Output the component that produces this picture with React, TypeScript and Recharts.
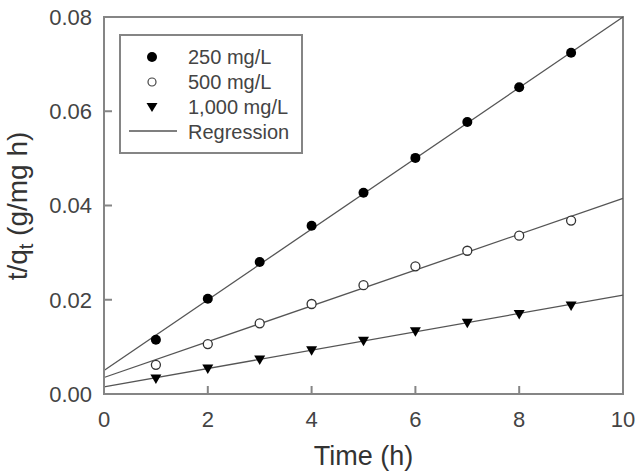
import {
  ComposedChart,
  Scatter,
  Line,
  XAxis,
  YAxis,
  ReferenceArea,
  Legend,
} from "recharts";

const times = [1, 2, 3, 4, 5, 6, 7, 8, 9];
const c250 = [0.0115, 0.0202, 0.028, 0.0357, 0.0427, 0.0501, 0.0577, 0.0651, 0.0724];
const c500 = [0.0062, 0.0106, 0.015, 0.0191, 0.0231, 0.0271, 0.0304, 0.0336, 0.0368];
const c1000 = [0.0033, 0.0054, 0.0073, 0.0093, 0.0113, 0.0133, 0.0151, 0.017, 0.0188];

// fitted lines, evaluated at t = 0 and t = 10
const fitTimes = [0, 10];
const fit250 = [0.005, 0.08];
const fit500 = [0.0035, 0.0415];
const fit1000 = [0.0015, 0.021];

const xTicks = [0, 2, 4, 6, 8, 10];
const yTicks = [0, 0.02, 0.04, 0.06, 0.08];
const legendLabels = ["250 mg/L", "500 mg/L", "1,000 mg/L", "Regression"];

const FONT = "Arial, 'Liberation Sans', Helvetica, sans-serif";
const AXIS = "#858585";
const INK = "#333";

const toPoints = (xs: number[], ys: number[]) => xs.map((x, i) => ({ x, y: ys[i] }));

const FilledDot = ({ cx, cy }: any) => <circle cx={cx} cy={cy} r={5} fill="#000" />;
const OpenDot = ({ cx, cy }: any) => (
  <circle cx={cx} cy={cy} r={4.5} fill="#fff" stroke="#333" strokeWidth={1.3} />
);
const DownTriangle = ({ cx, cy }: any) => (
  <polygon
    points={`${cx - 5.5},${cy - 4} ${cx + 5.5},${cy - 4} ${cx},${cy + 5.5}`}
    fill="#000"
  />
);

const LegendBox = () => (
  <div
    style={{
      width: 184,
      height: 120,
      boxSizing: "border-box",
      border: `2px solid ${AXIS}`,
      background: "#fff",
      fontFamily: FONT,
      fontSize: 20,
      color: "#444",
    }}
  >
    <svg width={180} height={116} style={{ position: "absolute", left: 2, top: 2 }}>
      <circle cx={31} cy={21} r={5} fill="#000" />
      <circle cx={31} cy={46} r={4} fill="#fff" stroke="#444" strokeWidth={1.2} />
      <polygon points="25.5,67 36.5,67 31,76" fill="#000" />
      <line x1={8} x2={56} y1={95} y2={95} stroke="#555" strokeWidth={1.3} />
      {legendLabels.map((label, i) => (
        <text key={label} x={67} y={21 + i * 25} dy="0.35em" fontFamily={FONT} fontSize={20} fill="#444">
          {label}
        </text>
      ))}
    </svg>
  </div>
);

const YTitle = () => (
  <text
    transform="translate(27, 206) rotate(-90)"
    textAnchor="middle"
    fontFamily={FONT}
    fontSize={28}
    fill={INK}
  >
    t/q
    <tspan fontSize={20} dy={6}>t</tspan>
    <tspan dy={-6}> (g/mg h)</tspan>
  </text>
);

export default function App() {
  return (
    <div style={{ position: "absolute", left: 0, top: 0, background: "#fff" }}>
      <ComposedChart
        width={639}
        height={473}
        margin={{ top: 17, right: 16, bottom: 0, left: 0 }}
      >
        <XAxis
          type="number"
          dataKey="x"
          domain={[0, 10]}
          ticks={xTicks}
          height={79}
          tickSize={-8}
          tickMargin={25}
          stroke={AXIS}
          strokeWidth={2}
          tick={{ fill: "#444", fontSize: 22, fontFamily: FONT }}
          label={{
            value: "Time (h)",
            position: "insideBottom",
            offset: 8,
            fill: INK,
            fontSize: 27,
            fontFamily: FONT,
          }}
        />
        <YAxis
          type="number"
          dataKey="y"
          domain={[0, 0.08]}
          ticks={yTicks}
          width={104}
          tickSize={-8}
          tickMargin={20}
          stroke={AXIS}
          strokeWidth={2}
          tickFormatter={(v: number) => v.toFixed(2)}
          tick={{ fill: "#444", fontSize: 22, fontFamily: FONT }}
          label={{ content: () => <YTitle /> }}
        />
        <ReferenceArea
          x1={0}
          x2={10}
          y1={0}
          y2={0.08}
          fill="none"
          fillOpacity={0}
          stroke={AXIS}
          strokeWidth={2}
          ifOverflow="visible"
        />
        <Line data={toPoints(fitTimes, fit250)} dataKey="y" stroke="#555" strokeWidth={1.3} dot={false} isAnimationActive={false} />
        <Line data={toPoints(fitTimes, fit500)} dataKey="y" stroke="#555" strokeWidth={1.3} dot={false} isAnimationActive={false} />
        <Line data={toPoints(fitTimes, fit1000)} dataKey="y" stroke="#555" strokeWidth={1.3} dot={false} isAnimationActive={false} />
        <Scatter data={toPoints(times, c250)} shape={FilledDot} isAnimationActive={false} />
        <Scatter data={toPoints(times, c500)} shape={OpenDot} isAnimationActive={false} />
        <Scatter data={toPoints(times, c1000)} shape={DownTriangle} isAnimationActive={false} />
        <Legend
          layout="vertical"
          align="center"
          verticalAlign="middle"
          content={() => <LegendBox />}
          wrapperStyle={{ left: 119, top: 34, width: 184, height: 120 }}
        />
      </ComposedChart>
    </div>
  );
}
